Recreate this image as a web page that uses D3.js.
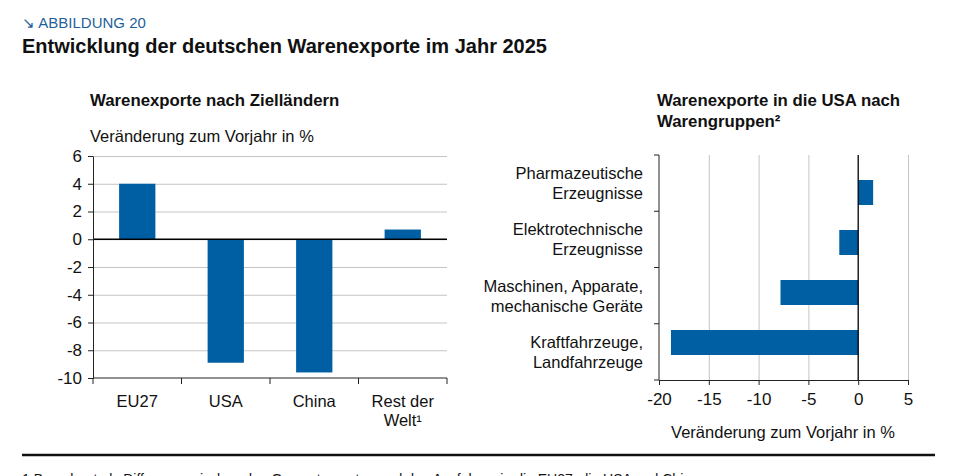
<!DOCTYPE html>
<html>
<head>
  <meta charset="utf-8">
  <script src="https://d3js.org/d3.v7.min.js"></script>
  <style>
    body { margin: 0; background: #fff; }
    text { font-family: "Liberation Sans", Arial, sans-serif; fill: #111; }
    .grid line { stroke: #c4c4c4; }
    .grid .domain { stroke: none; }
    .axis path, .axis line { stroke: #222; }
  </style>
</head>
<body>
<svg id="chart" width="964" height="476"></svg>
<script>
  // left panel: exports by destination
  const countries = ["EU27", "USA", "China", "Rest der Welt¹"];
  const countryValues = [4.0, -8.9, -9.6, 0.7];
  const leftTicks = [6, 4, 2, 0, -2, -4, -6, -8, -10];

  // right panel: exports to USA by product group
  const groups = [
    ["Pharmazeutische", "Erzeugnisse"],
    ["Elektrotechnische", "Erzeugnisse"],
    ["Maschinen, Apparate,", "mechanische Geräte"],
    ["Kraftfahrzeuge,", "Landfahrzeuge"]
  ];
  const groupValues = [1.5, -1.9, -7.8, -18.8];
  const rightTicks = [-20, -15, -10, -5, 0, 5];

  const barColor = "#005fa3";
  const fs = "16.5px";
  const svg = d3.select("#chart");

  // header
  svg.append("text").attr("x", 22).attr("y", 28)
    .style("font-size", "15px").style("fill", "#1f5f9a")
    .text("↘ ABBILDUNG 20");
  svg.append("text").attr("x", 22).attr("y", 53)
    .style("font-size", "20px").style("font-weight", "bold")
    .text("Entwicklung der deutschen Warenexporte im Jahr 2025");

  // ---------- left chart ----------
  const L = {left: 93, right: 447, top: 156, bottom: 378};
  const yL = d3.scaleLinear().domain([-10, 6]).range([L.bottom, L.top]);
  const xL = d3.scaleBand().domain(countries).range([L.left, L.right]).paddingInner(0.59).paddingOuter(0.295);
  const xLb = d3.scaleBand().domain(countries).range([L.left, L.right]);

  svg.append("text").attr("x", 90).attr("y", 106)
    .style("font-size", "16.8px").style("font-weight", "bold")
    .text("Warenexporte nach Zielländern");
  svg.append("text").attr("x", 90).attr("y", 142)
    .style("font-size", fs)
    .text("Veränderung zum Vorjahr in %");

  svg.append("g").attr("class", "grid")
    .attr("transform", "translate(" + L.left + ",0)")
    .call(d3.axisRight(yL).tickValues(leftTicks.filter(d => d != -10)).tickSize(L.right - L.left).tickFormat(""));

  svg.selectAll("rect.country").data(countryValues)
    .join("rect")
    .attr("class", "country")
    .attr("x", (d, i) => xL(countries[i]))
    .attr("width", xL.bandwidth())
    .attr("y", d => yL(Math.max(0, d)))
    .attr("height", d => Math.abs(yL(d) - yL(0)))
    .attr("fill", barColor);

  svg.append("line")
    .attr("x1", L.left).attr("x2", L.right)
    .attr("y1", yL(0)).attr("y2", yL(0))
    .attr("stroke", "#000").attr("stroke-width", 1.3);

  let leftAxis = svg.append("g").attr("class", "axis")
    .attr("transform", "translate(" + L.left + ",0)")
    .call(d3.axisLeft(yL).tickValues(leftTicks).tickSize(5).tickSizeOuter(0).tickPadding(6)
      .tickFormat(d => String(d)));
  leftAxis.selectAll("text").style("font-size", "17px").style("fill", "#111");

  // bottom axis with ticks at band boundaries
  const bottom = svg.append("g").attr("class", "axis");
  bottom.append("line").attr("x1", L.left).attr("x2", L.right)
    .attr("y1", L.bottom).attr("y2", L.bottom).attr("stroke", "#222");
  const bounds = countries.map(c => xLb(c)).concat([L.right]);
  bottom.selectAll("line.tick").data(bounds).join("line")
    .attr("class", "tick")
    .attr("x1", d => d).attr("x2", d => d)
    .attr("y1", L.bottom).attr("y2", L.bottom + 6)
    .attr("stroke", "#222");
  countries.forEach(c => {
    const lines = c == "Rest der Welt¹" ? ["Rest der", "Welt¹"] : [c];
    lines.forEach((t, j) => {
      svg.append("text")
        .attr("x", xLb(c) + xLb.bandwidth() / 2)
        .attr("y", 407 + j * 19)
        .attr("text-anchor", "middle")
        .style("font-size", fs)
        .text(t);
    });
  });

  // ---------- right chart ----------
  const R = {left: 659, right: 908, top: 155, bottom: 380};
  const xR = d3.scaleLinear().domain([-20, 5]).range([R.left, R.right]);
  const yRb = d3.scaleBand().domain(d3.range(groups.length)).range([R.top, R.bottom]);
  const yR = d3.scaleBand().domain(d3.range(groups.length)).range([R.top, R.bottom]).padding(0.5);

  svg.append("text").attr("x", 657).attr("y", 106)
    .style("font-size", "16.8px").style("font-weight", "bold")
    .text("Warenexporte in die USA nach");
  svg.append("text").attr("x", 657).attr("y", 127)
    .style("font-size", "16.8px").style("font-weight", "bold")
    .text("Warengruppen²");

  svg.append("g").attr("class", "grid")
    .attr("transform", "translate(0," + R.bottom + ")")
    .call(d3.axisTop(xR).tickValues([-15, -10, -5, 5]).tickSize(R.bottom - R.top).tickFormat(""));

  svg.selectAll("rect.group").data(groupValues)
    .join("rect")
    .attr("class", "group")
    .attr("y", (d, i) => yR(i))
    .attr("height", yR.bandwidth())
    .attr("x", d => xR(Math.min(0, d)))
    .attr("width", d => Math.abs(xR(d) - xR(0)))
    .attr("fill", barColor);

  svg.append("line")
    .attr("x1", xR(0)).attr("x2", xR(0))
    .attr("y1", R.top).attr("y2", R.bottom)
    .attr("stroke", "#000").attr("stroke-width", 1.3);

  let rightAxis = svg.append("g").attr("class", "axis")
    .attr("transform", "translate(0," + R.bottom + ")")
    .call(d3.axisBottom(xR).tickValues(rightTicks).tickSize(5).tickSizeOuter(0).tickPadding(8)
      .tickFormat(d => String(d)));
  rightAxis.selectAll("text").style("font-size", "17px").style("fill", "#111");

  const leftR = svg.append("g").attr("class", "axis");
  leftR.append("line").attr("x1", R.left).attr("x2", R.left)
    .attr("y1", R.top).attr("y2", R.bottom).attr("stroke", "#222");
  const rbounds = d3.range(groups.length).map(i => yRb(i)).concat([R.bottom]);
  leftR.selectAll("line.tick").data(rbounds).join("line")
    .attr("class", "tick")
    .attr("x1", R.left - 5).attr("x2", R.left)
    .attr("y1", d => d).attr("y2", d => d)
    .attr("stroke", "#222");

  groups.forEach((g, i) => {
    const cy = yRb(i) + yRb.bandwidth() / 2;
    g.forEach((t, j) => {
      svg.append("text")
        .attr("x", 643)
        .attr("y", cy - 4 + j * 20)
        .attr("text-anchor", "end")
        .style("font-size", fs)
        .text(t);
    });
  });

  svg.append("text").attr("x", 783).attr("y", 438)
    .attr("text-anchor", "middle")
    .style("font-size", fs)
    .text("Veränderung zum Vorjahr in %");

  // bottom rule and footnote (cut at the page edge, as in the original)
  svg.append("line").attr("x1", 22).attr("x2", 935)
    .attr("y1", 455).attr("y2", 455)
    .attr("stroke", "#111").attr("stroke-width", 2.5);
  svg.append("text").attr("x", 22).attr("y", 484)
    .style("font-size", "14px")
    .text("1   Berechnet als Differenz zwischen den Gesamtexporten und den Ausfuhren in die EU27, die USA und China.");
</script>
</body>
</html>
